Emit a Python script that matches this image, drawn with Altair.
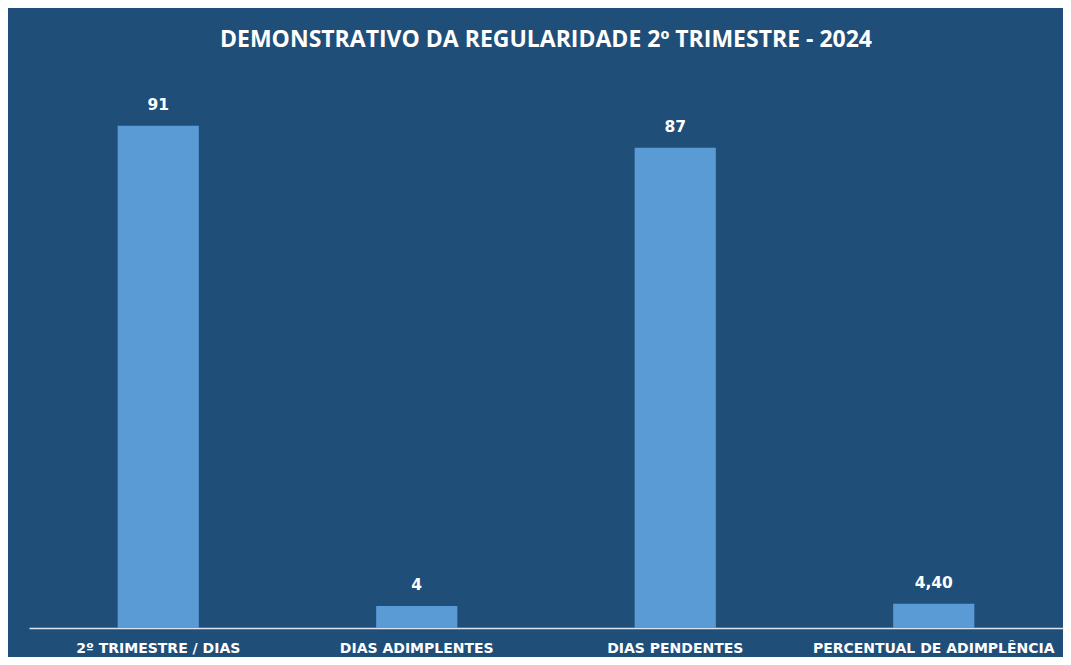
import altair as alt
import pandas as pd

categories = ["2º TRIMESTRE / DIAS", "DIAS ADIMPLENTES", "DIAS PENDENTES", "PERCENTUAL DE ADIMPLÊNCIA"]
values = [91, 4, 87, 4.40]
value_labels = ["91", "4", "87", "4,40"]

df = pd.DataFrame({"cat": categories, "val": values, "lab": value_labels})

BG = "#1F4E79"
BAR = "#5B9BD5"

base = alt.Chart(df).encode(
    x=alt.X("cat:N", sort=categories, title=None,
            scale=alt.Scale(paddingInner=0.686, paddingOuter=0.343),
            axis=alt.Axis(labelAngle=0, labelColor="white", labelFont="DejaVu Sans",
                          labelFontWeight="bold", labelFontSize=14, labelPadding=13,
                          domainColor="#DDE6F0", domainWidth=1.5, ticks=False,
                          grid=False, labelLimit=300)),
    y=alt.Y("val:Q", scale=alt.Scale(domain=[0, 100]), axis=None),
)

bars = base.mark_bar(color=BAR)
texts = base.mark_text(dy=-13, baseline="bottom", color="white", font="DejaVu Sans",
                       fontWeight="bold", fontSize=15.5).encode(text="lab:N")

chart = (bars + texts).properties(
    width=1034, height=552,
    padding={"left": 21, "top": 68, "right": 0, "bottom": 29},
    autosize=alt.AutoSizeParams(type="none"),
    title=alt.TitleParams("DEMONSTRATIVO DA REGULARIDADE 2º TRIMESTRE - 2024",
                          color="white", font="Open Sans", fontWeight="bold",
                          fontSize=23, anchor="middle", offset=24),
).configure(background=BG).configure_view(stroke=None)

chart.save("out.html", embed_options={"renderer": "svg", "actions": False})
